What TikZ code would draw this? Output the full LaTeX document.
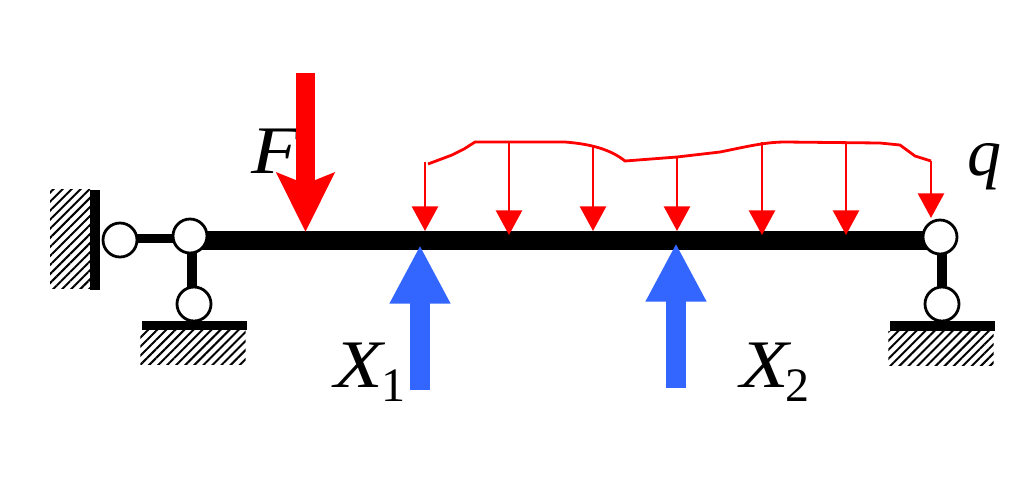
\documentclass[tikz,border=0pt]{standalone}
\usepackage{fontspec}
\setmainfont{Liberation Serif}
\usetikzlibrary{arrows.meta, patterns.meta, backgrounds}
\definecolor{blueforce}{RGB}{51,102,255}
\newcommand{\widesym}[1]{\scalebox{1.17}[1]{#1}}
\newcommand{\subsym}[2]{\kern#1\raisebox{-10.5pt}{\fontsize{36}{38}\selectfont\upshape #2}}
\tikzset{
    hinge/.style={circle, draw, line width=2.1pt, fill=white, inner sep=0pt, minimum size=25.5pt},
    link/.style={line width=7.2pt},
    plate/.style={rectangle, fill=black, inner sep=0pt},
    hatched/.style={rectangle, inner sep=0pt, pattern={Lines[angle=45,distance=4.8pt,line width=1.5pt]}},
    bigred/.style={line width=14.5pt, red, -{Stealth[length=44pt,width=42.5pt,inset=8pt]}},
    bigblue/.style={line width=15pt, blueforce, -{Triangle[length=44pt,width=42.5pt]}},
    loadarrow/.style={line width=2.1pt, red, -{Triangle[length=18.5pt,width=19.5pt]}},
    symbol/.style={anchor=base west, inner sep=0pt, font=\fontsize{51}{54}\selectfont\itshape}
}
\begin{document}
\begin{tikzpicture}[x=0.75pt,y=-0.75pt]
        \useasboundingbox (0,0) rectangle (1015,487);

        % supports
        \node at (70,239) [hatched, minimum width=30pt, minimum height=74pt] (wall_hatch) {};
        \node at (95,240) [plate, minimum width=7.5pt, minimum height=75pt] (wall) {};
        \node at (193,347.5) [hatched, minimum width=79pt, minimum height=26pt] (left_hatch) {};
        \node at (194.5,325.5) [plate, minimum width=79pt, minimum height=7pt] (left_plate) {};
        \node at (941,348.5) [hatched, minimum width=79pt, minimum height=26pt] (right_hatch) {};
        \node at (942.5,326) [plate, minimum width=79pt, minimum height=7.5pt] (right_plate) {};

        % joints
        \node at (120,240) [hinge] (h_wall) {};
        \node at (190,236) [hinge] (h_left) {};
        \node at (194,304) [hinge] (h_left_low) {};
        \node at (940,237) [hinge] (h_right) {};
        \node at (942,304) [hinge] (h_right_low) {};

        \coordinate (beam_start) at (190,240.5);
        \coordinate (beam_end) at (940,240.5);

        % links and beam
        \begin{scope}[on background layer]
            \draw[link] ([yshift=1.1pt]h_wall.center) -- ([yshift=1.1pt]h_wall.center -| h_left)
                        ([xshift=-1.5pt]h_left_low.center) -- ([xshift=-1.5pt]h_left_low.center |- h_left)
                        (h_right_low) -- (h_right_low |- h_right);
            \draw[line width=14.3pt] (beam_start) -- (beam_end);
        \end{scope}

        % labels
        \node at (251,173) [symbol] (label_F) {\widesym{F}};
        \node at (334,387) [symbol] (label_X1) {\widesym{X}\subsym{-1pt}{1}};
        \node at (740,387) [symbol] (label_X2) {\widesym{X}\subsym{-2.5pt}{2}};
        \node at (967,175) [symbol] (label_q) {q};

        % forces
        \coordinate (F_top) at (305.5,73);
        \coordinate (F_tip) at (305.5,232);
        \coordinate (X1_bot) at (420,390);
        \coordinate (X1_tip) at (420,245);
        \coordinate (X2_bot) at (676,388);
        \coordinate (X2_tip) at (676,243);
        \draw[bigred] (F_top) -- (F_tip);
        \draw[bigblue] (X1_bot) -- (X1_tip);
        \draw[bigblue] (X2_bot) -- (X2_tip);

        % distributed load
        \draw[red, line width=2.1pt] (428,164) -- (452,155) -- (464,149) -- (475,142) -- (565,142)
            .. controls (590,144) and (610,149) .. (625,161)
            -- (677,157) -- (720,152) .. controls (745,147) and (765,142) .. (785,142)
            -- (880,143) -- (900,145) -- (915,156) -- (931,161);
        \foreach \name/\xpos/\ytop/\ytip in {a/425/162/231, b/509/142/235, c/593/147/231, d/677/157/231,
                                             e/762/142/235, f/846/142/235, g/931/161/218} {
            \coordinate (load_\name_top) at (\xpos,\ytop);
            \coordinate (load_\name_tip) at (\xpos,\ytip);
            \draw[loadarrow] (load_\name_top) -- (load_\name_tip);
        }
\end{tikzpicture}
\end{document}
